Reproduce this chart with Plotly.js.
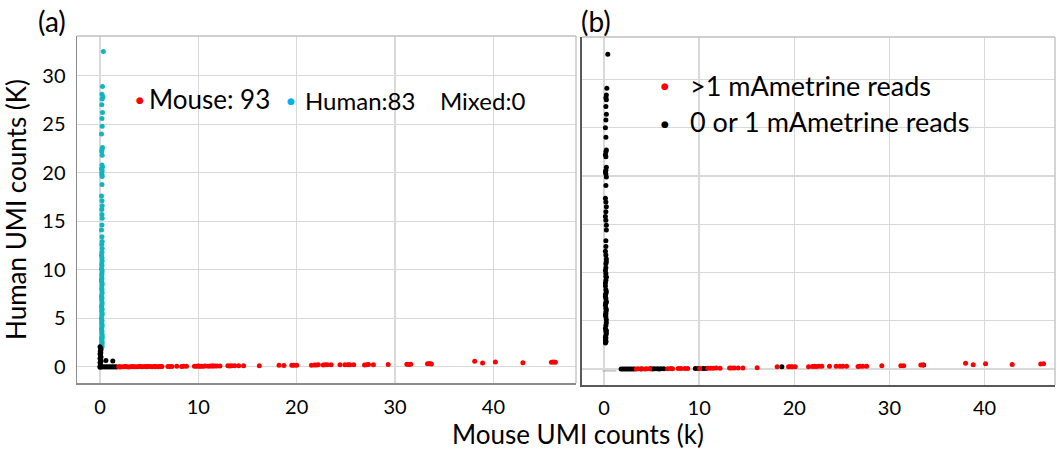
<!DOCTYPE html>
<html>
<head>
<meta charset="utf-8">
<script src="https://cdn.plot.ly/plotly-3.0.1.min.js"></script>
<style>html,body{margin:0;padding:0;background:#fff;}#chart{width:1057px;height:450px;}</style>
</head>
<body>
<div id="chart"></div>
<script>
// ---------- Panel (a) data ----------
const humanXa = [0.34,0.25,0.2,0.3,0.22,0.18,0.25,0.2,0.22,0.15,0.25,0.2,0.18,0.22,0.2,0.25,0.15,0.22,0.18,0.2,0.22,0.2,0.15,0.2,0.22,0.18,0.2,0.22,0.15,0.2,0.18,0.22,0.2,0.15,0.2,0.22,0.18,0.2,0.15,0.22,0.2,0.18,0.2,0.15,0.22,0.2,0.18,0.2,0.22,0.15,0.2,0.18,0.22,0.2,0.15,0.2,0.18,0.22,0.2,0.15,0.2,0.18,0.22,0.2,0.15,0.2,0.18,0.22,0.2,0.15,0.2,0.18,0.22,0.2,0.15,0.2,0.18,0.22,0.2,0.15,0.2,0.18,0.22];
const humanYa = [32.5,28.9,28.1,27.8,27.6,27.0,26.2,25.6,24.8,24.0,22.6,22.4,22.2,21.8,20.8,20.6,20.4,20.2,20.0,19.8,19.6,18.8,17.6,17.1,16.6,16.2,15.7,15.3,14.1,13.4,12.6,12.2,11.8,11.5,11.2,10.9,10.6,10.4,10.1,9.9,9.6,9.4,9.1,8.8,8.6,8.4,8.1,7.9,7.6,7.3,7.1,6.9,6.6,6.4,6.2,5.9,5.7,5.5,5.3,5.0,4.8,4.6,4.3,4.1,3.9,3.7,3.5,3.3,3.1,2.9,2.8,2.6,2.5,2.3,2.2,2.1,2.0,12.9,14.6,9.0,6.0,4.4,3.0];

const mouseXa = [1.9,2.1,2.3,2.5,2.7,2.9,3.1,3.3,3.6,3.8,4.1,4.3,4.5,4.7,4.9,5.1,5.3,5.5,5.7,5.9,6.1,6.3,6.9,7.1,7.3,7.8,8.3,8.5,8.8,9.6,9.8,10.0,10.3,10.5,10.7,11.0,11.2,11.4,11.7,11.9,12.2,13.0,13.2,13.4,13.7,14.1,14.6,16.2,18.2,18.7,19.5,19.7,20.0,21.5,21.8,22.0,22.2,22.7,22.9,23.1,23.5,24.4,24.9,25.2,25.4,25.8,26.9,27.1,27.3,27.8,29.3,31.2,31.4,31.6,33.3,33.5,33.7,38.1,38.9,40.2,43.0,45.9,46.1,46.3,2.0,2.6,3.4,4.0,4.8,5.6,6.2,10.1,11.5];
const mouseYa = [0.0,-0.02,0.0,-0.01,0.0,-0.02,0.0,0.01,-0.01,0.0,0.01,-0.01,0.02,0.0,0.01,0.02,0.0,0.01,0.02,0.0,0.01,0.02,0.02,0.03,0.03,0.04,0.03,0.05,0.04,0.06,0.05,0.07,0.05,0.06,0.07,0.06,0.07,0.08,0.08,0.07,0.08,0.09,0.08,0.1,0.09,0.1,0.09,0.11,0.14,0.12,0.14,0.15,0.14,0.15,0.18,0.17,0.19,0.18,0.2,0.19,0.21,0.2,0.21,0.19,0.21,0.2,0.17,0.2,0.22,0.21,0.24,0.25,0.23,0.26,0.3,0.32,0.28,0.55,0.38,0.48,0.4,0.45,0.48,0.47,0.0,0.01,0.0,0.02,0.01,0.0,0.02,0.06,0.08];

const lowXa = [0.0,0.05,0.0,0.1,0.05,0.0,0.1,0.05,0.0,0.08,0.03,0.1,0.05,0.0,0.2,0.35,0.5,0.65,0.8,0.95,1.1,1.25,1.4,1.55,1.7,0.0,0.6,1.3];
const lowYa = [0.05,0.2,0.4,0.55,0.7,0.85,1.0,1.15,1.3,1.45,1.6,1.75,1.9,2.05,-0.02,0.0,-0.03,0.0,-0.02,0.0,-0.03,0.0,-0.02,0.0,-0.02,-0.05,0.65,0.6];

// ---------- Panel (b) data ----------
const humanXb = [0.4,0.3,0.25,0.2,0.25,0.2,0.25,0.2,0.15,0.2,0.25,0.2,0.15,0.2,0.25,0.2,0.15,0.2,0.25,0.2,0.15,0.2,0.25,0.2,0.15,0.2,0.25,0.2,0.15,0.2,0.25,0.2,0.15,0.2,0.25,0.2,0.15,0.2,0.25,0.2,0.15,0.2,0.25,0.2,0.15,0.2,0.25,0.2,0.15,0.2,0.25,0.2,0.15,0.2,0.25,0.2,0.15,0.2,0.25,0.2,0.15,0.2,0.25,0.2,0.15,0.2,0.25,0.2,0.15,0.2,0.25,0.2,0.15];
const humanYb = [32.6,29.1,28.4,28.1,27.9,27.2,26.4,25.8,25.0,24.0,22.7,22.5,22.2,22.0,20.9,20.6,20.4,20.2,19.9,19.0,17.7,17.3,16.8,16.3,15.8,15.4,14.4,12.7,12.2,11.8,11.4,10.9,10.2,9.9,9.5,9.2,8.9,8.2,8.0,7.8,7.5,7.3,7.0,6.8,6.6,6.3,6.1,5.9,5.6,5.4,4.8,4.5,4.2,3.9,3.7,3.2,2.7,13.3,14.9,10.5,8.6,6.9,5.1,3.5,3.0,2.9,4.0,5.7,7.7,9.6,11.1,2.8,3.3];

const redXb = [3.4,3.6,4.0,4.3,4.5,4.8,6.7,7.0,7.2,7.8,8.1,8.5,8.8,10.05,10.9,11.2,11.5,11.8,12.2,13.2,13.4,13.7,14.1,14.6,16.1,18.2,19.4,19.6,19.8,20.1,21.5,21.9,22.1,22.3,22.6,22.9,23.7,24.4,24.8,25.1,25.5,26.7,26.9,27.2,27.6,29.2,31.2,31.5,33.3,33.5,38.0,38.8,40.1,42.9,45.9,46.2];
const redYb = [0.01,0.02,0.02,0.01,0.02,0.02,0.03,0.04,0.03,0.04,0.05,0.05,0.04,0.06,0.07,0.08,0.07,0.09,0.08,0.1,0.09,0.11,0.1,0.11,0.14,0.24,0.22,0.24,0.23,0.22,0.23,0.26,0.27,0.25,0.28,0.27,0.28,0.27,0.29,0.28,0.27,0.25,0.27,0.29,0.28,0.33,0.34,0.33,0.42,0.4,0.59,0.43,0.55,0.47,0.52,0.54];

const blackXb = [1.8,2.0,2.2,2.4,2.6,2.8,3.0,3.2,3.9,4.9,5.1,5.3,5.6,5.8,6.0,6.3,9.6,9.9,10.4,10.7,18.7,33.6];
const blackYb = [0.0,0.0,0.01,0.0,0.0,0.01,0.0,0.0,0.01,0.02,0.01,0.02,0.02,0.01,0.02,0.02,0.05,0.05,0.06,0.05,0.22,0.4];

const lowLineXb = [-0.15,1.3];
const lowLineYb = [-0.2,-0.2];

// ---------- Text ----------
const tickVals = [0,10,20,30,40];
const yTickVals = [0,5,10,15,20,25,30];
const xTitle = 'Mouse UMI counts (k)';
const yTitle = 'Human UMI counts (K)';
const legendA = ['Mouse: 93','Human:83','Mixed:0'];
const legendB = ['>1 mAmetrine reads','0 or 1 mAmetrine reads'];

const RED = '#ff0000', TEAL = '#13b5bd', BLUE = '#00b0f0', BLACK = '#000000';
const FONT = 'Lato, "Open Sans", sans-serif';
const W = 1057, H = 450;
const px = v => v / W, py = v => 1 - v / H;

const mk = (c) => ({color: c, size: 5});
const traces = [
  {x: humanXa, y: humanYa, mode: 'markers', type: 'scatter', marker: mk(TEAL), xaxis: 'x', yaxis: 'y', name: 'Human'},
  {x: lowXa, y: lowYa, mode: 'markers', type: 'scatter', marker: mk(BLACK), xaxis: 'x', yaxis: 'y', name: 'Other'},
  {x: mouseXa, y: mouseYa, mode: 'markers', type: 'scatter', marker: mk(RED), xaxis: 'x', yaxis: 'y', name: 'Mouse'},
  {x: lowLineXb, y: lowLineYb, mode: 'lines', type: 'scatter', line: {color: '#a0a0a0', width: 1}, xaxis: 'x2', yaxis: 'y2', name: 'low'},
  {x: humanXb, y: humanYb, mode: 'markers', type: 'scatter', marker: mk(BLACK), xaxis: 'x2', yaxis: 'y2', name: 'human b'},
  {x: blackXb, y: blackYb, mode: 'markers', type: 'scatter', marker: mk(BLACK), xaxis: 'x2', yaxis: 'y2', name: '0 or 1'},
  {x: redXb, y: redYb, mode: 'markers', type: 'scatter', marker: mk(RED), xaxis: 'x2', yaxis: 'y2', name: '>1'}
];

const grid = {showgrid: true, gridcolor: '#d9d9d9', gridwidth: 1.3, zeroline: false, ticks: '', fixedrange: true};
const tf = {family: FONT, size: 20, color: '#000'};

const layout = {
  width: W, height: H,
  margin: {l: 0, r: 0, t: 0, b: 0},
  paper_bgcolor: '#fff', plot_bgcolor: '#fff',
  showlegend: false,
  font: {family: FONT, color: '#000'},
  xaxis: Object.assign({}, grid, {domain: [px(77), px(576)], range: [-2.34, 48.4], tickvals: tickVals, tickfont: tf, ticklabelstandoff: 5, showline: true, linecolor: '#8c8c8c', linewidth: 1.5, anchor: 'y'}),
  yaxis: Object.assign({}, grid, {domain: [py(383), py(36)], range: [-1.68, 34.1], tickvals: yTickVals, tickfont: tf, ticklabelstandoff: 6, showline: true, linecolor: '#8c8c8c', linewidth: 1.5, anchor: 'x',
    title: {text: yTitle, font: {family: FONT, size: 26, color: '#000'}, standoff: 8}}),
  xaxis2: Object.assign({}, grid, {domain: [px(582), px(1055)], range: [-2.31, 47.4], tickvals: tickVals, tickfont: tf, ticklabelstandoff: 4, showline: true, linecolor: '#595959', linewidth: 2, anchor: 'y2'}),
  yaxis2: Object.assign({}, grid, {domain: [py(385), py(37)], range: [-1.66, 34.4], tickvals: yTickVals, showticklabels: false, showline: true, linecolor: '#595959', linewidth: 2, anchor: 'x2'}),
  shapes: [
    {type: 'line', xref: 'x domain', yref: 'y domain', x0: 0, x1: 1, y0: 1, y1: 1, line: {color: '#bfbfbf', width: 1.3}},
    {type: 'line', xref: 'x domain', yref: 'y domain', x0: 1, x1: 1, y0: 0, y1: 1, line: {color: '#bfbfbf', width: 1.3}},
    {type: 'line', xref: 'x2 domain', yref: 'y2 domain', x0: 0, x1: 1, y0: 1, y1: 1, line: {color: '#bfbfbf', width: 1.3}},
    {type: 'line', xref: 'x2 domain', yref: 'y2 domain', x0: 1, x1: 1, y0: 0, y1: 1, line: {color: '#bfbfbf', width: 1.3}}
  ],
  annotations: [
    {text: '(a)', xref: 'paper', yref: 'paper', x: px(52), y: py(21), xanchor: 'center', yanchor: 'middle', showarrow: false, font: {family: FONT, size: 28, color: '#000'}},
    {text: '(b)', xref: 'paper', yref: 'paper', x: px(596), y: py(21), xanchor: 'center', yanchor: 'middle', showarrow: false, font: {family: FONT, size: 28, color: '#000'}},
    {text: xTitle, xref: 'paper', yref: 'paper', x: px(578), y: py(434), xanchor: 'center', yanchor: 'middle', showarrow: false, font: {family: FONT, size: 26, color: '#000'}},
    // legend (a)
    {text: '●', xref: 'paper', yref: 'paper', x: px(140), y: py(100), xanchor: 'center', yanchor: 'middle', showarrow: false, font: {family: 'DejaVu Sans', size: 9, color: RED}},
    {text: legendA[0], xref: 'paper', yref: 'paper', x: px(147), y: py(99), xanchor: 'left', yanchor: 'middle', showarrow: false, font: {family: FONT, size: 26, color: '#000'}},
    {text: '●', xref: 'paper', yref: 'paper', x: px(291), y: py(101), xanchor: 'center', yanchor: 'middle', showarrow: false, font: {family: 'DejaVu Sans', size: 9, color: BLUE}},
    {text: legendA[1], xref: 'paper', yref: 'paper', x: px(303), y: py(100), xanchor: 'left', yanchor: 'middle', showarrow: false, font: {family: FONT, size: 24, color: '#000'}},
    {text: legendA[2], xref: 'paper', yref: 'paper', x: px(438), y: py(100), xanchor: 'left', yanchor: 'middle', showarrow: false, font: {family: FONT, size: 24, color: '#000'}},
    // legend (b)
    {text: '●', xref: 'paper', yref: 'paper', x: px(665), y: py(86), xanchor: 'center', yanchor: 'middle', showarrow: false, font: {family: 'DejaVu Sans', size: 9, color: RED}},
    {text: legendB[0], xref: 'paper', yref: 'paper', x: px(688), y: py(85), xanchor: 'left', yanchor: 'middle', showarrow: false, font: {family: FONT, size: 27, color: '#000'}},
    {text: '●', xref: 'paper', yref: 'paper', x: px(665), y: py(124), xanchor: 'center', yanchor: 'middle', showarrow: false, font: {family: 'DejaVu Sans', size: 9, color: BLACK}},
    {text: legendB[1], xref: 'paper', yref: 'paper', x: px(688), y: py(121), xanchor: 'left', yanchor: 'middle', showarrow: false, font: {family: FONT, size: 27, color: '#000'}}
  ]
};

Plotly.newPlot('chart', traces, layout, {staticPlot: true, displayModeBar: false});
</script>
</body>
</html>
